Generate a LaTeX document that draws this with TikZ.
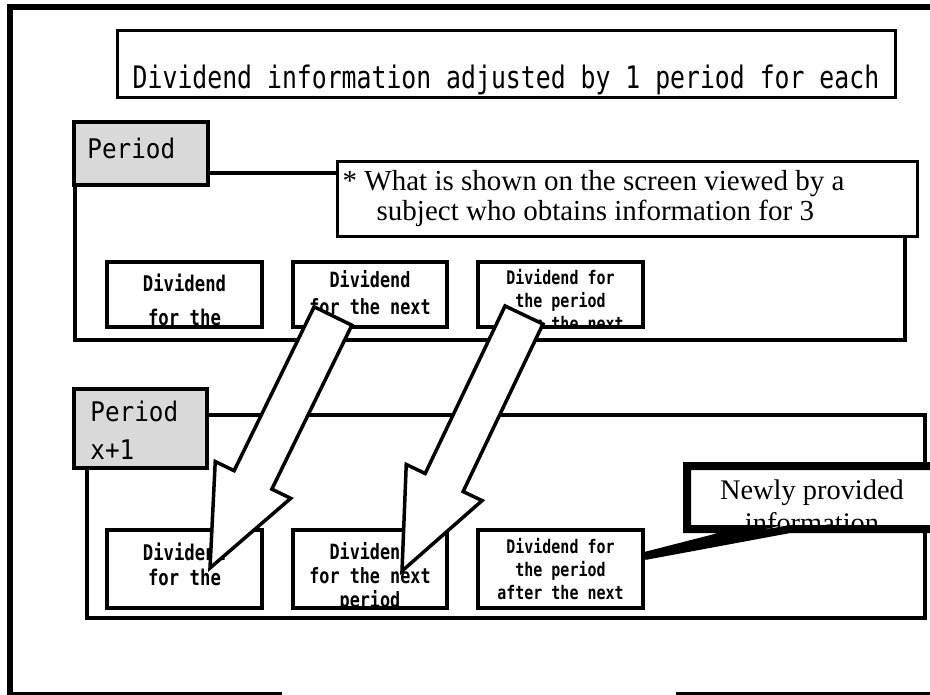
\documentclass[tikz,border=0pt]{standalone}
\usepackage{fontspec}
\setmainfont{Liberation Serif}
\newfontfamily\gothic[FakeStretch=0.8]{DejaVu Sans Mono}
\newfontfamily\gothicw[FakeStretch=0.9]{DejaVu Sans Mono}
\usetikzlibrary{calc}
\definecolor{tabgray}{RGB}{217,217,217}

\begin{document}
\begin{tikzpicture}[
  x=1pt, y=-1pt,
  frame/.style={draw, line width=3.5pt},
  tab/.style={draw, line width=3.5pt, fill=tabgray, inner sep=0pt},
  dbox/.style={draw, line width=3.5pt, fill=white, inner sep=0pt},
  newbox/.style={draw, line width=8pt, fill=white},
  bigarrow/.style={draw, line width=3.5pt, fill=white},
  btext/.style={inner sep=0pt, anchor=north, align=center},
  ltext/.style={inner sep=0pt, anchor=north west, align=left},
]
\path[use as bounding box] (0,0) rectangle (930,695);
\clip (0,0) rectangle (930,695);

\draw[line width=6pt] (282,695) -- (10,695) -- (10,7) -- (940,7);
\draw[line width=6pt] (676,695) -- (940,695);

\node[dbox, line width=3pt, minimum width=778pt, minimum height=67pt,
      text height=58pt, text depth=9pt, font=\gothic\fontsize{31}{31}\selectfont]
      (title) at (506,64.5) {Dividend information adjusted by 1 period for each};

% period x
\draw[frame] (75,173) rectangle (905,340);
\node[tab, minimum width=134pt, minimum height=63pt] (tabx) at (141,153.5) {};
\node[ltext, font=\gothicw\fontsize{27}{37}\selectfont] (tabxt) at ([xshift=15pt, yshift=-18pt]tabx.north west) {Period};
\node[dbox, line width=3pt, minimum width=580pt, minimum height=75pt] (note) at (627,199.5) {};
\node[ltext, font=\fontsize{29}{30}\selectfont] (notet) at ([xshift=7pt, yshift=-10pt]note.north west)
  {* What is shown on the screen viewed by a\\\hspace{34pt}subject who obtains information for 3};

\node[dbox, minimum width=155pt, minimum height=65pt] (xa) at (184.5,294.5) {};
\node[dbox, minimum width=154pt, minimum height=65pt] (xb) at (370,294.5) {};
\node[dbox, minimum width=165pt, minimum height=65pt] (xc) at (560.5,294.5) {};
\node[btext, font=\gothic\bfseries\fontsize{21.6}{34}\selectfont] (xat) at ([yshift=-13pt]xa.north) {Dividend\\for the};
\node[btext, font=\gothic\bfseries\fontsize{21}{27}\selectfont] (xbt) at ([yshift=-10pt]xb.north) {Dividend\\for the next};
\begin{scope}
  \clip (xc.south west) rectangle (xc.north east);
  \node[btext, font=\gothic\bfseries\fontsize{18.7}{23}\selectfont] (xct) at ([yshift=-9pt]xc.north) {Dividend for\\the period\\after the next};
\end{scope}

% period x+1
\draw[frame] (87,415) rectangle (925,618);
\node[tab, minimum width=133pt, minimum height=79pt] (taby) at (140.5,428.5) {};
\node[ltext, font=\gothicw\fontsize{27}{38}\selectfont] (tabyt) at ([xshift=18pt, yshift=-14pt]taby.north west) {Period\\x+1};

\node[dbox, minimum width=155pt, minimum height=78pt] (ya) at (184.5,569) {};
\node[dbox, minimum width=154pt, minimum height=78pt] (yb) at (370,569) {};
\node[dbox, minimum width=165pt, minimum height=78pt] (yc) at (560.5,569) {};
\node[btext, font=\gothic\bfseries\fontsize{21.6}{25}\selectfont] (yat) at ([yshift=-14pt]ya.north) {Dividend\\for the};
\begin{scope}
  \clip (yb.south west) rectangle (yb.north east);
  \node[btext, font=\gothic\bfseries\fontsize{21}{24}\selectfont] (ybt) at ([yshift=-14pt]yb.north) {Dividend\\for the next\\period};
\end{scope}
\node[btext, font=\gothic\bfseries\fontsize{18.7}{23}\selectfont] (yct) at ([yshift=-10pt]yc.north) {Dividend for\\the period\\after the next};

\draw[newbox] (687,466) -- (945,466) -- (945,529) -- (790,529) -- ([yshift=13pt]yc.east)
  -- (750,529) -- (687,529) -- cycle;
\begin{scope}
  \clip (687,466) rectangle (945,529);
  \node[btext, font=\fontsize{28.4}{33}\selectfont] (newt) at (812,480) {Newly provided\\information};
\end{scope}

% arrows
\coordinate (t1) at (333,316);
\coordinate (p1) at (210,568);
\coordinate (h1) at ($(p1)!98pt!(t1)$);
\draw[bigarrow] ($(t1)!21pt!90:(p1)$) -- ($(h1)!21pt!90:(p1)$) -- ($(h1)!42pt!90:(p1)$)
  -- (p1) -- ($(h1)!42pt!-90:(p1)$) -- ($(h1)!21pt!-90:(p1)$) -- ($(t1)!21pt!-90:(p1)$) -- cycle;
\coordinate (t2) at (524,315);
\coordinate (p2) at (402,571);
\coordinate (h2) at ($(p2)!98pt!(t2)$);
\draw[bigarrow] ($(t2)!21pt!90:(p2)$) -- ($(h2)!21pt!90:(p2)$) -- ($(h2)!42pt!90:(p2)$)
  -- (p2) -- ($(h2)!42pt!-90:(p2)$) -- ($(h2)!21pt!-90:(p2)$) -- ($(t2)!21pt!-90:(p2)$) -- cycle;
\end{tikzpicture}
\end{document}
